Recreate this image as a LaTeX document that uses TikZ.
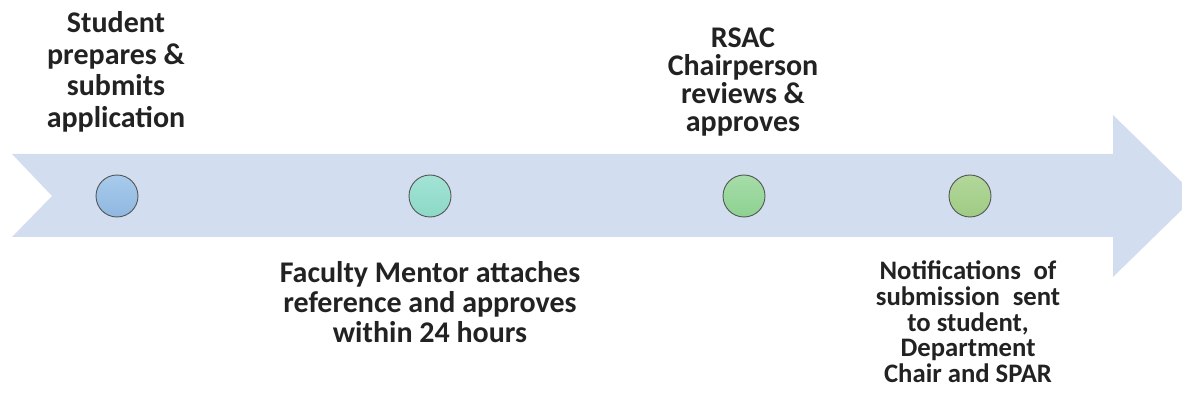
\documentclass[tikz,border=0pt]{standalone}
\usepackage{fontspec}
\setmainfont{Carlito}
\definecolor{arrowfill}{HTML}{D2DEEF}
\definecolor{cAt}{HTML}{A8CBEC}
\definecolor{cAb}{HTML}{8FB7E0}
\definecolor{cBt}{HTML}{A3E3D5}
\definecolor{cBb}{HTML}{8CD8C6}
\definecolor{cCt}{HTML}{A6DCA8}
\definecolor{cCb}{HTML}{8DD291}
\definecolor{cDt}{HTML}{B2D79A}
\definecolor{cDb}{HTML}{9FCB84}
\definecolor{ringc}{HTML}{555555}
\definecolor{txt}{HTML}{222222}
\begin{document}
\begin{tikzpicture}[x=1pt,y=-1pt,
  dot/.style={circle,draw=ringc,line width=0.9pt,minimum size=42pt,inner sep=0pt},
  lbl/.style={font=\fontsize{30}{30}\selectfont\bfseries,text=txt,align=center,inner sep=0pt}]
\useasboundingbox (0,0) rectangle (1182,395);
\begin{scope}
\clip (0,0) rectangle (1182,395);
\fill[arrowfill] (12,154) -- (1113,154) -- (1113,115) -- (1196,196) -- (1113,277) -- (1113,237) -- (12,237) -- (52,196) -- cycle;
\end{scope}
\node[dot,top color=cAt,bottom color=cAb] (s1) at (117,196) {};
\node[dot,top color=cBt,bottom color=cBb] (s2) at (430,196) {};
\node[dot,top color=cCt,bottom color=cCb] (s3) at (744,196) {};
\node[dot,top color=cDt,bottom color=cDb] (s4) at (970,196) {};
\node[lbl,anchor=north,font=\fontsize{30}{31.5}\selectfont\bfseries] (t1) at (116,11.5) {Student\\prepares \&\\submits\\application};
\node[lbl,anchor=north] (t2) at (430,261) {Faculty Mentor attaches\\reference and approves\\within 24 hours};
\node[lbl,anchor=north,font=\fontsize{30}{28}\selectfont\bfseries] (t3) at (743,28) {RSAC\\Chairperson\\reviews \&\\approves};
\node[lbl,anchor=north,font=\fontsize{26.7}{25.8}\selectfont\bfseries] (t4) at (968,260.5) {Notifications\hspace{0.25em} of\\submission\hspace{0.25em} sent\\to student,\\Department\\Chair and SPAR};
\end{tikzpicture}
\end{document}
